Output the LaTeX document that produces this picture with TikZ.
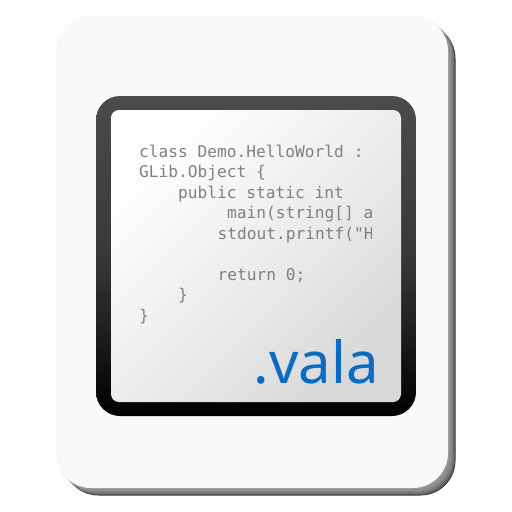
\documentclass[tikz,border=0pt]{standalone}
\usepackage{fontspec}
\setmonofont{DejaVu Sans Mono}
\newfontfamily\valafont{Noto Sans}
\definecolor{pagefill}{HTML}{F9F9F9}
\definecolor{codegrey}{HTML}{808080}
\definecolor{valablue}{HTML}{0A6BC3}
\definecolor{frametop}{HTML}{4B4B4B}
\tikzset{
  codeline/.style={anchor=base west,inner sep=0pt,text=codegrey,font=\fontsize{16.2pt}{16.2pt}\selectfont\ttfamily},
  shadowlayer/.style={rounded corners=35pt},
}
\pgfdeclareverticalshading{innerfade}{100bp}{color(0bp)=(black!15!white); color(25bp)=(black!15!white); color(50bp)=(black!7!white); color(75bp)=(white); color(100bp)=(white)}
\begin{document}
\begin{tikzpicture}[x=1pt,y=-1pt]
\useasboundingbox (0,0) rectangle (512,512);
\fill[white] (0,0) rectangle (512,512);
\foreach \o/\c in {7.5/78,7/66,6/58,5/52,4/48,3/45,2/43,1/42}{
  \fill[shadowlayer,black!\c!white] (56+\o,16+\o) rectangle (448+\o,488+\o);
}
\fill[shadowlayer,pagefill] (56,16) rectangle (448,488);
\shade[rounded corners=24pt,top color=frametop,bottom color=black,middle color=black!78!white] (96,96) rectangle (416,416);
\shade[rounded corners=8pt,shading=innerfade,shading angle=45] (111,110) rectangle (401,402);
\begin{scope}
\clip (130,130) rectangle (371.5,330);
\node[codeline] (l1) at (139,157) {class Demo.HelloWorld :};
\node[codeline] (l2) at (139,177.5) {GLib.Object \{};
\node[codeline] (l3) at (178,198) {public static int};
\node[codeline] (l4) at (227,218.5) {main(string[] a};
\node[codeline] (l5) at (217.5,239) {stdout.printf("H};
\node[codeline] (l6) at (217.5,280) {return 0;};
\node[codeline] (l7) at (178,300.5) {\}};
\node[codeline] (l8) at (139,321) {\}};
\end{scope}
\node[anchor=base west,inner sep=0pt,text=valablue,font=\fontsize{58pt}{58pt}\selectfont\valafont] (ext) at (253.5,383) {.vala};
\end{tikzpicture}
\end{document}
